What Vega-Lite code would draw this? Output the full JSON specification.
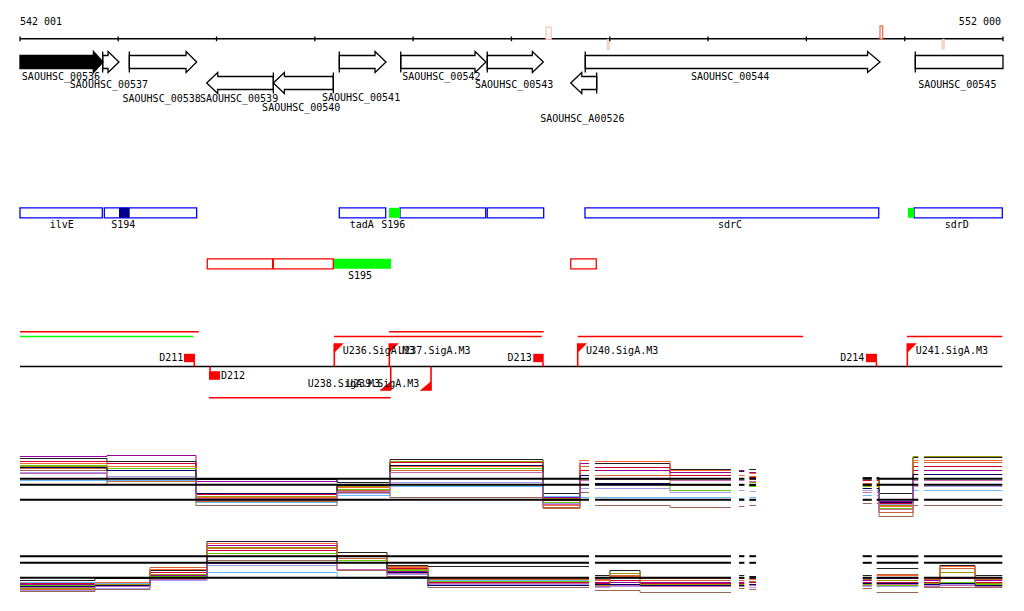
{
"$schema":"https://vega.github.io/schema/vega-lite/v6.json",
"width":1024,"height":611,
"autosize":{"type":"fit","contains":"padding"},
"padding":0,
"background":"white",
"config":{"view":{"stroke":null},"text":{"font":"DejaVu Sans Mono","fontSize":10,"fill":"black","baseline":"middle"}},
"encoding":{
"x":{"field":"x","type":"quantitative","scale":{"domain":[541797.6,552213.7],"nice":false,"zero":false},"axis":null},
"y":{"field":"y","type":"quantitative","stack":null,"scale":{"domain":[-0.5,610.5],"reverse":true,"nice":false,"zero":false},"axis":null}
},
"datasets":{
"hr":[
{"x":542001,"x2":552000,"y":38.3,"k":"blk"},
{"x":542001,"x2":551993,"y":366,"k":"blk"},
{"x":542001,"x2":543819,"y":331.3,"k":"red"},
{"x":545755,"x2":547328,"y":331.3,"k":"red"},
{"x":545195,"x2":547308,"y":336,"k":"red"},
{"x":547674,"x2":549966,"y":336,"k":"red"},
{"x":551024,"x2":551993,"y":336,"k":"red"},
{"x":543923,"x2":545772,"y":397.3,"k":"red"},
{"x":542001,"x2":543764,"y":336,"k":"green"},
{"x":542001,"x2":547789,"y":478.3,"k":"ref"},{"x":547850,"x2":549233,"y":478.3,"k":"ref"},{"x":549315,"x2":549369,"y":478.3,"k":"ref"},{"x":549420,"x2":549488,"y":478.3,"k":"ref"},{"x":550573,"x2":550665,"y":478.3,"k":"ref"},{"x":550715,"x2":551139,"y":478.3,"k":"ref"},{"x":551197,"x2":551993,"y":478.3,"k":"ref"},
{"x":542001,"x2":547789,"y":484.3,"k":"ref"},{"x":547850,"x2":549233,"y":484.3,"k":"ref"},{"x":549315,"x2":549369,"y":484.3,"k":"ref"},{"x":549420,"x2":549488,"y":484.3,"k":"ref"},{"x":550573,"x2":550665,"y":484.3,"k":"ref"},{"x":550715,"x2":551139,"y":484.3,"k":"ref"},{"x":551197,"x2":551993,"y":484.3,"k":"ref"},
{"x":542001,"x2":547789,"y":499.3,"k":"ref"},{"x":547850,"x2":549233,"y":499.3,"k":"ref"},{"x":549315,"x2":549369,"y":499.3,"k":"ref"},{"x":549420,"x2":549488,"y":499.3,"k":"ref"},{"x":550573,"x2":550665,"y":499.3,"k":"ref"},{"x":550715,"x2":551139,"y":499.3,"k":"ref"},{"x":551197,"x2":551993,"y":499.3,"k":"ref"},
{"x":542001,"x2":547789,"y":555.7,"k":"ref"},{"x":547850,"x2":549233,"y":555.7,"k":"ref"},{"x":549315,"x2":549369,"y":555.7,"k":"ref"},{"x":549420,"x2":549488,"y":555.7,"k":"ref"},{"x":550573,"x2":550665,"y":555.7,"k":"ref"},{"x":550715,"x2":551139,"y":555.7,"k":"ref"},{"x":551197,"x2":551993,"y":555.7,"k":"ref"},
{"x":542001,"x2":547789,"y":562.3,"k":"ref"},{"x":547850,"x2":549233,"y":562.3,"k":"ref"},{"x":549315,"x2":549369,"y":562.3,"k":"ref"},{"x":549420,"x2":549488,"y":562.3,"k":"ref"},{"x":550573,"x2":550665,"y":562.3,"k":"ref"},{"x":550715,"x2":551139,"y":562.3,"k":"ref"},{"x":551197,"x2":551993,"y":562.3,"k":"ref"},
{"x":542001,"x2":547789,"y":577.3,"k":"ref"},{"x":547850,"x2":549233,"y":577.3,"k":"ref"},{"x":549315,"x2":549369,"y":577.3,"k":"ref"},{"x":549420,"x2":549488,"y":577.3,"k":"ref"},{"x":550573,"x2":550665,"y":577.3,"k":"ref"},{"x":550715,"x2":551139,"y":577.3,"k":"ref"},{"x":551197,"x2":551993,"y":577.3,"k":"ref"}
],
"vr":[
{"x":542001,"y":36,"y2":40.7,"k":"blk"},{"x":543000,"y":36,"y2":40.7,"k":"blk"},{"x":544000,"y":36,"y2":40.7,"k":"blk"},{"x":545000,"y":36,"y2":40.7,"k":"blk"},{"x":546000,"y":36,"y2":40.7,"k":"blk"},{"x":547000,"y":36,"y2":40.7,"k":"blk"},{"x":548000,"y":36,"y2":40.7,"k":"blk"},{"x":549000,"y":36,"y2":40.7,"k":"blk"},{"x":550000,"y":36,"y2":40.7,"k":"blk"},{"x":551000,"y":36,"y2":40.7,"k":"blk"},{"x":552000,"y":36,"y2":40.7,"k":"blk"},
{"x":542842,"y":51,"y2":72,"k":"blk"},{"x":543113,"y":51,"y2":72,"k":"blk"},{"x":545249,"y":51,"y2":72,"k":"blk"},{"x":545874,"y":51,"y2":72,"k":"blk"},{"x":546754,"y":51,"y2":72,"k":"blk"},{"x":547751,"y":51,"y2":72,"k":"blk"},{"x":551108,"y":51,"y2":72,"k":"blk"},
{"x":544578,"y":72,"y2":93,"k":"blk"},{"x":545188,"y":72,"y2":93,"k":"blk"},{"x":547867,"y":72,"y2":93,"k":"blk"},
{"x":543774,"y":361.7,"y2":366,"k":"red"},{"x":543934,"y":366,"y2":370.7,"k":"red"},{"x":547321,"y":361.7,"y2":366,"k":"red"},{"x":550713,"y":361.7,"y2":366,"k":"red"},
{"x":545198,"y":343,"y2":366,"k":"red"},{"x":545758,"y":343,"y2":366,"k":"red"},{"x":547674,"y":343,"y2":366,"k":"red"},{"x":551027,"y":343,"y2":366,"k":"red"},
{"x":545772,"y":366,"y2":390,"k":"red"},{"x":546182,"y":366,"y2":390,"k":"red"}
],
"rc":[
{"x":542001,"x2":542838,"y":207.3,"y2":217.3,"k":"blue"},{"x":542859,"x2":543798,"y":207.3,"y2":217.3,"k":"blue"},{"x":545249,"x2":545721,"y":207.3,"y2":217.3,"k":"blue"},{"x":545866,"x2":546738,"y":207.3,"y2":217.3,"k":"blue"},{"x":546754,"x2":547328,"y":207.3,"y2":217.3,"k":"blue"},{"x":547748,"x2":550736,"y":207.3,"y2":217.3,"k":"blue"},{"x":551095,"x2":551993,"y":207.3,"y2":217.3,"k":"blue"},
{"x":543008,"x2":543117,"y":207.3,"y2":217.3,"k":"navy"},
{"x":545755,"x2":545866,"y":207.3,"y2":217.3,"k":"green"},{"x":551034,"x2":551095,"y":207.3,"y2":217.3,"k":"green"},{"x":545188,"x2":545775,"y":258.3,"y2":268.3,"k":"green"},
{"x":543906,"x2":544571,"y":258.3,"y2":268.3,"k":"red"},{"x":544578,"x2":545188,"y":258.3,"y2":268.3,"k":"red"},{"x":547603,"x2":547863,"y":258.3,"y2":268.3,"k":"red"},
{"x":543669,"x2":543781,"y":353.3,"y2":361.7,"k":"term"},{"x":543923,"x2":544035,"y":370.7,"y2":379.3,"k":"term"},{"x":547222,"x2":547328,"y":353.3,"y2":361.7,"k":"term"},{"x":550606,"x2":550718,"y":353.3,"y2":361.7,"k":"term"},
{"x":547351,"x2":547405,"y":26.7,"y2":38.7,"k":"pink"},
{"x":547975,"x2":547995,"y":38.7,"y2":49.3,"k":"pinkf"},{"x":551380,"x2":551403,"y":38.7,"y2":48.7,"k":"pinkf"},
{"x":550749,"x2":550776,"y":25.3,"y2":38.7,"k":"orange"}
],
"arr":[
{"g":"00536","b":1,"x":542001,"y":55,"y2":68},{"g":"00536","b":1,"x":542747,"y":55,"y2":68},{"g":"00536","b":1,"x":542748,"y":51,"y2":72},{"g":"00536","b":1,"x":542845,"y":61.5,"y2":61.5},
{"g":"00537","b":0,"x":542842,"y":55,"y2":68},{"g":"00537","b":0,"x":542896,"y":55,"y2":68},{"g":"00537","b":0,"x":542897,"y":51,"y2":72},{"g":"00537","b":0,"x":543008,"y":61.5,"y2":61.5},
{"g":"00538","b":0,"x":543113,"y":55,"y2":68},{"g":"00538","b":0,"x":543690,"y":55,"y2":68},{"g":"00538","b":0,"x":543691,"y":51,"y2":72},{"g":"00538","b":0,"x":543798,"y":61.5,"y2":61.5},
{"g":"00541","b":0,"x":545249,"y":55,"y2":68},{"g":"00541","b":0,"x":545612,"y":55,"y2":68},{"g":"00541","b":0,"x":545613,"y":51,"y2":72},{"g":"00541","b":0,"x":545724,"y":61.5,"y2":61.5},
{"g":"00542","b":0,"x":545874,"y":55,"y2":68},{"g":"00542","b":0,"x":546629,"y":55,"y2":68},{"g":"00542","b":0,"x":546630,"y":51,"y2":72},{"g":"00542","b":0,"x":546741,"y":61.5,"y2":61.5},
{"g":"00543","b":0,"x":546754,"y":55,"y2":68},{"g":"00543","b":0,"x":547212,"y":55,"y2":68},{"g":"00543","b":0,"x":547213,"y":51,"y2":72},{"g":"00543","b":0,"x":547324,"y":61.5,"y2":61.5},
{"g":"00544","b":0,"x":547751,"y":55,"y2":68},{"g":"00544","b":0,"x":550622,"y":55,"y2":68},{"g":"00544","b":0,"x":550623,"y":51,"y2":72},{"g":"00544","b":0,"x":550749,"y":61.5,"y2":61.5},
{"g":"00545","b":0,"x":551108,"y":55,"y2":68},{"g":"00545","b":0,"x":552000,"y":55,"y2":68},
{"g":"00539","b":0,"x":543900,"y":82.5,"y2":82.5},{"g":"00539","b":0,"x":544012,"y":72,"y2":93},{"g":"00539","b":0,"x":544013,"y":76,"y2":89},{"g":"00539","b":0,"x":544578,"y":76,"y2":89},
{"g":"00540","b":0,"x":544578,"y":82.5,"y2":82.5},{"g":"00540","b":0,"x":544690,"y":72,"y2":93},{"g":"00540","b":0,"x":544691,"y":76,"y2":89},{"g":"00540","b":0,"x":545188,"y":76,"y2":89},
{"g":"A00526","b":0,"x":547603,"y":82.5,"y2":82.5},{"g":"A00526","b":0,"x":547715,"y":72,"y2":93},{"g":"A00526","b":0,"x":547716,"y":76,"y2":89},{"g":"A00526","b":0,"x":547867,"y":76,"y2":89}
],
"flg":[
{"f":"U236","x":545198,"y":343,"y2":352},{"f":"U236","x":545289,"y":343,"y2":343},
{"f":"U237","x":545758,"y":343,"y2":352},{"f":"U237","x":545849,"y":343,"y2":343},
{"f":"U240","x":547674,"y":343,"y2":352},{"f":"U240","x":547765,"y":343,"y2":343},
{"f":"U241","x":551027,"y":343,"y2":352},{"f":"U241","x":551118,"y":343,"y2":343},
{"f":"U238","x":545663,"y":390,"y2":390},{"f":"U238","x":545772,"y":381,"y2":390},
{"f":"U239","x":546073,"y":390,"y2":390},{"f":"U239","x":546182,"y":381,"y2":390}
],
"tx":[
{"x":542418,"y":76.5,"t":"SAOUHSC_00536","side":"c"},
{"x":542906,"y":84.5,"t":"SAOUHSC_00537","side":"c"},
{"x":543442,"y":98,"t":"SAOUHSC_00538","side":"c"},
{"x":544229,"y":98,"t":"SAOUHSC_00539","side":"c"},
{"x":544862,"y":107,"t":"SAOUHSC_00540","side":"c"},
{"x":545470,"y":97.5,"t":"SAOUHSC_00541","side":"c"},
{"x":546287,"y":76,"t":"SAOUHSC_00542","side":"c"},
{"x":547028,"y":84.5,"t":"SAOUHSC_00543","side":"c"},
{"x":547721,"y":118,"t":"SAOUHSC_A00526","side":"c"},
{"x":549225,"y":76,"t":"SAOUHSC_00544","side":"c"},
{"x":551535,"y":84.5,"t":"SAOUHSC_00545","side":"c"},
{"x":542425,"y":224.5,"t":"ilvE","side":"c"},
{"x":543052,"y":224.5,"t":"S194","side":"c"},
{"x":545477,"y":224.5,"t":"tadA","side":"c"},
{"x":545798,"y":224.5,"t":"S196","side":"c"},
{"x":549223,"y":224.5,"t":"sdrC","side":"c"},
{"x":551529,"y":224.5,"t":"sdrD","side":"c"},
{"x":545460,"y":275,"t":"S195","side":"c"},
{"x":542001,"y":21,"t":"542 001","side":"l"},
{"x":544046,"y":375,"t":"D212","side":"l"},
{"x":545283,"y":350.5,"t":"U236.SigA.M3","side":"l"},
{"x":545849,"y":350.5,"t":"U237.SigA.M3","side":"l"},
{"x":547758,"y":350.5,"t":"U240.SigA.M3","side":"l"},
{"x":551112,"y":350.5,"t":"U241.SigA.M3","side":"l"},
{"x":551980,"y":21,"t":"552 000","side":"r"},
{"x":543662,"y":357,"t":"D211","side":"r"},
{"x":547206,"y":357,"t":"D213","side":"r"},
{"x":550589,"y":357,"t":"D214","side":"r"},
{"x":545663,"y":383,"t":"U238.SigA.M3","side":"r"},
{"x":546063,"y":383,"t":"U239.SigA.M3","side":"r"}
],
"ex":[
{"s":"A","g":"1a","x":542001,"y":456},{"s":"A","g":"1a","x":542886,"y":455},{"s":"A","g":"1a","x":543791,"y":481},{"s":"A","g":"1a","x":545226,"y":478},{"s":"A","g":"1a","x":545765,"y":462},{"s":"A","g":"1a","x":547321,"y":497},{"s":"A","g":"1a","x":547697,"y":463},{"s":"A","g":"1a","x":547789,"y":463},
{"s":"A","g":"1b","x":547850,"y":470},{"s":"A","g":"1b","x":548613,"y":472},{"s":"A","g":"1b","x":549233,"y":472},
{"s":"A","g":"1c","x":549315,"y":470},{"s":"A","g":"1c","x":549369,"y":470},{"s":"A","g":"1d","x":549420,"y":472},{"s":"A","g":"1d","x":549488,"y":472},
{"s":"A","g":"1e","x":550573,"y":478},{"s":"A","g":"1e","x":550665,"y":478},
{"s":"A","g":"1f","x":550715,"y":478},{"s":"A","g":"1f","x":550739,"y":501},{"s":"A","g":"1f","x":551085,"y":470},{"s":"A","g":"1f","x":551139,"y":470},
{"s":"A","g":"1g","x":551197,"y":470},{"s":"A","g":"1g","x":551993,"y":470},
{"s":"B","g":"1a","x":542001,"y":458},{"s":"B","g":"1a","x":542886,"y":461},{"s":"B","g":"1a","x":543791,"y":479},{"s":"B","g":"1a","x":545226,"y":482},{"s":"B","g":"1a","x":545765,"y":459},{"s":"B","g":"1a","x":547321,"y":493},{"s":"B","g":"1a","x":547697,"y":470},{"s":"B","g":"1a","x":547789,"y":470},
{"s":"B","g":"1b","x":547850,"y":463},{"s":"B","g":"1b","x":548613,"y":469},{"s":"B","g":"1b","x":549233,"y":469},
{"s":"B","g":"1c","x":549315,"y":471},{"s":"B","g":"1c","x":549369,"y":471},{"s":"B","g":"1d","x":549420,"y":469},{"s":"B","g":"1d","x":549488,"y":469},
{"s":"B","g":"1e","x":550573,"y":477},{"s":"B","g":"1e","x":550665,"y":477},
{"s":"B","g":"1f","x":550715,"y":477},{"s":"B","g":"1f","x":550739,"y":493},{"s":"B","g":"1f","x":551085,"y":457},{"s":"B","g":"1f","x":551139,"y":457},
{"s":"B","g":"1g","x":551197,"y":457},{"s":"B","g":"1g","x":551993,"y":457},
{"s":"C","g":"1a","x":542001,"y":461},{"s":"C","g":"1a","x":542886,"y":463},{"s":"C","g":"1a","x":543791,"y":494},{"s":"C","g":"1a","x":545226,"y":484},{"s":"C","g":"1a","x":545765,"y":462},{"s":"C","g":"1a","x":547321,"y":500},{"s":"C","g":"1a","x":547697,"y":470},{"s":"C","g":"1a","x":547789,"y":470},
{"s":"C","g":"1b","x":547850,"y":467},{"s":"C","g":"1b","x":548613,"y":475},{"s":"C","g":"1b","x":549233,"y":475},
{"s":"C","g":"1c","x":549315,"y":475},{"s":"C","g":"1c","x":549369,"y":475},{"s":"C","g":"1d","x":549420,"y":477},{"s":"C","g":"1d","x":549488,"y":477},
{"s":"C","g":"1e","x":550573,"y":480},{"s":"C","g":"1e","x":550665,"y":480},
{"s":"C","g":"1f","x":550715,"y":480},{"s":"C","g":"1f","x":550739,"y":503},{"s":"C","g":"1f","x":551085,"y":466},{"s":"C","g":"1f","x":551139,"y":466},
{"s":"C","g":"1g","x":551197,"y":466},{"s":"C","g":"1g","x":551993,"y":466},
{"s":"D","g":"1a","x":542001,"y":463},{"s":"D","g":"1a","x":542886,"y":466},{"s":"D","g":"1a","x":543791,"y":497},{"s":"D","g":"1a","x":545226,"y":487},{"s":"D","g":"1a","x":545765,"y":466},{"s":"D","g":"1a","x":547321,"y":505},{"s":"D","g":"1a","x":547697,"y":460},{"s":"D","g":"1a","x":547789,"y":460},
{"s":"D","g":"1b","x":547850,"y":461},{"s":"D","g":"1b","x":548613,"y":470},{"s":"D","g":"1b","x":549233,"y":470},
{"s":"D","g":"1c","x":549315,"y":475},{"s":"D","g":"1c","x":549369,"y":475},{"s":"D","g":"1d","x":549420,"y":473},{"s":"D","g":"1d","x":549488,"y":473},
{"s":"D","g":"1e","x":550573,"y":483},{"s":"D","g":"1e","x":550665,"y":483},
{"s":"D","g":"1f","x":550715,"y":483},{"s":"D","g":"1f","x":550739,"y":506},{"s":"D","g":"1f","x":551085,"y":460},{"s":"D","g":"1f","x":551139,"y":460},
{"s":"D","g":"1g","x":551197,"y":460},{"s":"D","g":"1g","x":551993,"y":460},
{"s":"E","g":"1a","x":542001,"y":466},{"s":"E","g":"1a","x":542886,"y":470},{"s":"E","g":"1a","x":543791,"y":496},{"s":"E","g":"1a","x":545226,"y":486},{"s":"E","g":"1a","x":545765,"y":461},{"s":"E","g":"1a","x":547321,"y":498},{"s":"E","g":"1a","x":547697,"y":478},{"s":"E","g":"1a","x":547789,"y":478},
{"s":"E","g":"1b","x":547850,"y":478},{"s":"E","g":"1b","x":548613,"y":485},{"s":"E","g":"1b","x":549233,"y":485},
{"s":"E","g":"1c","x":549315,"y":480},{"s":"E","g":"1c","x":549369,"y":480},{"s":"E","g":"1d","x":549420,"y":482},{"s":"E","g":"1d","x":549488,"y":482},
{"s":"E","g":"1e","x":550573,"y":478},{"s":"E","g":"1e","x":550665,"y":478},
{"s":"E","g":"1f","x":550715,"y":478},{"s":"E","g":"1f","x":550739,"y":505},{"s":"E","g":"1f","x":551085,"y":456},{"s":"E","g":"1f","x":551139,"y":456},
{"s":"E","g":"1g","x":551197,"y":456},{"s":"E","g":"1g","x":551993,"y":456},
{"s":"F","g":"1a","x":542001,"y":465},{"s":"F","g":"1a","x":542886,"y":468},{"s":"F","g":"1a","x":543791,"y":499},{"s":"F","g":"1a","x":545226,"y":489},{"s":"F","g":"1a","x":545765,"y":468},{"s":"F","g":"1a","x":547321,"y":502},{"s":"F","g":"1a","x":547697,"y":484},{"s":"F","g":"1a","x":547789,"y":484},
{"s":"F","g":"1b","x":547850,"y":484},{"s":"F","g":"1b","x":548613,"y":490},{"s":"F","g":"1b","x":549233,"y":490},
{"s":"F","g":"1c","x":549315,"y":485},{"s":"F","g":"1c","x":549369,"y":485},{"s":"F","g":"1d","x":549420,"y":486},{"s":"F","g":"1d","x":549488,"y":486},
{"s":"F","g":"1e","x":550573,"y":486},{"s":"F","g":"1e","x":550665,"y":486},
{"s":"F","g":"1f","x":550715,"y":486},{"s":"F","g":"1f","x":550739,"y":508},{"s":"F","g":"1f","x":551085,"y":478},{"s":"F","g":"1f","x":551139,"y":478},
{"s":"F","g":"1g","x":551197,"y":478},{"s":"F","g":"1g","x":551993,"y":478},
{"s":"G","g":"1a","x":542001,"y":468},{"s":"G","g":"1a","x":542886,"y":481},{"s":"G","g":"1a","x":543791,"y":501},{"s":"G","g":"1a","x":545226,"y":490},{"s":"G","g":"1a","x":545765,"y":470},{"s":"G","g":"1a","x":547321,"y":508},{"s":"G","g":"1a","x":547697,"y":466},{"s":"G","g":"1a","x":547789,"y":466},
{"s":"G","g":"1b","x":547850,"y":475},{"s":"G","g":"1b","x":548613,"y":478},{"s":"G","g":"1b","x":549233,"y":478},
{"s":"G","g":"1c","x":549315,"y":478},{"s":"G","g":"1c","x":549369,"y":478},{"s":"G","g":"1d","x":549420,"y":476},{"s":"G","g":"1d","x":549488,"y":476},
{"s":"G","g":"1e","x":550573,"y":485},{"s":"G","g":"1e","x":550665,"y":485},
{"s":"G","g":"1f","x":550715,"y":485},{"s":"G","g":"1f","x":550739,"y":512},{"s":"G","g":"1f","x":551085,"y":462},{"s":"G","g":"1f","x":551139,"y":462},
{"s":"G","g":"1g","x":551197,"y":462},{"s":"G","g":"1g","x":551993,"y":462},
{"s":"H","g":"1a","x":542001,"y":480},{"s":"H","g":"1a","x":542886,"y":480},{"s":"H","g":"1a","x":543791,"y":502},{"s":"H","g":"1a","x":545226,"y":495},{"s":"H","g":"1a","x":545765,"y":486},{"s":"H","g":"1a","x":547321,"y":496},{"s":"H","g":"1a","x":547697,"y":497},{"s":"H","g":"1a","x":547789,"y":497},
{"s":"H","g":"1b","x":547850,"y":497},{"s":"H","g":"1b","x":548613,"y":497},{"s":"H","g":"1b","x":549233,"y":497},
{"s":"H","g":"1c","x":549315,"y":498},{"s":"H","g":"1c","x":549369,"y":498},{"s":"H","g":"1d","x":549420,"y":497},{"s":"H","g":"1d","x":549488,"y":497},
{"s":"H","g":"1e","x":550573,"y":495},{"s":"H","g":"1e","x":550665,"y":495},
{"s":"H","g":"1f","x":550715,"y":495},{"s":"H","g":"1f","x":550739,"y":499},{"s":"H","g":"1f","x":551085,"y":490},{"s":"H","g":"1f","x":551139,"y":490},
{"s":"H","g":"1g","x":551197,"y":490},{"s":"H","g":"1g","x":551993,"y":490},
{"s":"I","g":"1a","x":542001,"y":472},{"s":"I","g":"1a","x":542886,"y":476},{"s":"I","g":"1a","x":543791,"y":500},{"s":"I","g":"1a","x":545226,"y":493},{"s":"I","g":"1a","x":545765,"y":482},{"s":"I","g":"1a","x":547321,"y":503},{"s":"I","g":"1a","x":547697,"y":488},{"s":"I","g":"1a","x":547789,"y":488},
{"s":"I","g":"1b","x":547850,"y":488},{"s":"I","g":"1b","x":548613,"y":492},{"s":"I","g":"1b","x":549233,"y":492},
{"s":"I","g":"1c","x":549315,"y":490},{"s":"I","g":"1c","x":549369,"y":490},{"s":"I","g":"1d","x":549420,"y":491},{"s":"I","g":"1d","x":549488,"y":491},
{"s":"I","g":"1e","x":550573,"y":490},{"s":"I","g":"1e","x":550665,"y":490},
{"s":"I","g":"1f","x":550715,"y":490},{"s":"I","g":"1f","x":550739,"y":504},{"s":"I","g":"1f","x":551085,"y":486},{"s":"I","g":"1f","x":551139,"y":486},
{"s":"I","g":"1g","x":551197,"y":486},{"s":"I","g":"1g","x":551993,"y":486},
{"s":"J","g":"1a","x":542001,"y":470},{"s":"J","g":"1a","x":542886,"y":484},{"s":"J","g":"1a","x":543791,"y":505},{"s":"J","g":"1a","x":545226,"y":492},{"s":"J","g":"1a","x":545765,"y":497},{"s":"J","g":"1a","x":547321,"y":507},{"s":"J","g":"1a","x":547697,"y":492},{"s":"J","g":"1a","x":547789,"y":492},
{"s":"J","g":"1b","x":547850,"y":505},{"s":"J","g":"1b","x":548613,"y":507},{"s":"J","g":"1b","x":549233,"y":507},
{"s":"J","g":"1c","x":549315,"y":506},{"s":"J","g":"1c","x":549369,"y":506},{"s":"J","g":"1d","x":549420,"y":505},{"s":"J","g":"1d","x":549488,"y":505},
{"s":"J","g":"1e","x":550573,"y":503},{"s":"J","g":"1e","x":550665,"y":503},
{"s":"J","g":"1f","x":550715,"y":503},{"s":"J","g":"1f","x":550739,"y":516},{"s":"J","g":"1f","x":551085,"y":505},{"s":"J","g":"1f","x":551139,"y":505},
{"s":"J","g":"1g","x":551197,"y":505},{"s":"J","g":"1g","x":551993,"y":505},
{"s":"K","g":"1a","x":542001,"y":467},{"s":"K","g":"1a","x":542886,"y":470},{"s":"K","g":"1a","x":543791,"y":493},{"s":"K","g":"1a","x":545226,"y":485},{"s":"K","g":"1a","x":545765,"y":465},{"s":"K","g":"1a","x":547321,"y":499},{"s":"K","g":"1a","x":547697,"y":475},{"s":"K","g":"1a","x":547789,"y":475},
{"s":"K","g":"1b","x":547850,"y":483},{"s":"K","g":"1b","x":548613,"y":484},{"s":"K","g":"1b","x":549233,"y":484},
{"s":"K","g":"1c","x":549315,"y":484},{"s":"K","g":"1c","x":549369,"y":484},{"s":"K","g":"1d","x":549420,"y":485},{"s":"K","g":"1d","x":549488,"y":485},
{"s":"K","g":"1e","x":550573,"y":488},{"s":"K","g":"1e","x":550665,"y":488},
{"s":"K","g":"1f","x":550715,"y":488},{"s":"K","g":"1f","x":550739,"y":502},{"s":"K","g":"1f","x":551085,"y":474},{"s":"K","g":"1f","x":551139,"y":474},
{"s":"K","g":"1g","x":551197,"y":474},{"s":"K","g":"1g","x":551993,"y":474},
{"s":"L","g":"1a","x":542001,"y":473},{"s":"L","g":"1a","x":542886,"y":478},{"s":"L","g":"1a","x":543791,"y":498},{"s":"L","g":"1a","x":545226,"y":491},{"s":"L","g":"1a","x":545765,"y":472},{"s":"L","g":"1a","x":547321,"y":504},{"s":"L","g":"1a","x":547697,"y":480},{"s":"L","g":"1a","x":547789,"y":480},
{"s":"L","g":"1b","x":547850,"y":479},{"s":"L","g":"1b","x":548613,"y":480},{"s":"L","g":"1b","x":549233,"y":480},
{"s":"L","g":"1c","x":549315,"y":480},{"s":"L","g":"1c","x":549369,"y":480},{"s":"L","g":"1d","x":549420,"y":481},{"s":"L","g":"1d","x":549488,"y":481},
{"s":"L","g":"1e","x":550573,"y":492},{"s":"L","g":"1e","x":550665,"y":492},
{"s":"L","g":"1f","x":550715,"y":492},{"s":"L","g":"1f","x":550739,"y":509},{"s":"L","g":"1f","x":551085,"y":480},{"s":"L","g":"1f","x":551139,"y":480},
{"s":"L","g":"1g","x":551197,"y":480},{"s":"L","g":"1g","x":551993,"y":480},
{"s":"A","g":"2a","x":542001,"y":584},{"s":"A","g":"2a","x":542764,"y":582},{"s":"A","g":"2a","x":543323,"y":575},{"s":"A","g":"2a","x":543903,"y":545},{"s":"A","g":"2a","x":545226,"y":560},{"s":"A","g":"2a","x":545734,"y":571},{"s":"A","g":"2a","x":546151,"y":580},{"s":"A","g":"2a","x":547789,"y":580},
{"s":"A","g":"2b","x":547850,"y":582},{"s":"A","g":"2b","x":548002,"y":582},{"s":"A","g":"2b","x":548308,"y":582},{"s":"A","g":"2b","x":549233,"y":582},
{"s":"A","g":"2c","x":549315,"y":582},{"s":"A","g":"2c","x":549369,"y":582},{"s":"A","g":"2d","x":549420,"y":581},{"s":"A","g":"2d","x":549488,"y":581},
{"s":"A","g":"2e","x":550573,"y":580},{"s":"A","g":"2e","x":550665,"y":580},{"s":"A","g":"2f","x":550715,"y":578},{"s":"A","g":"2f","x":551139,"y":578},
{"s":"A","g":"2g","x":551197,"y":580},{"s":"A","g":"2g","x":551359,"y":578},{"s":"A","g":"2g","x":551715,"y":580},{"s":"A","g":"2g","x":551993,"y":580},
{"s":"B","g":"2a","x":542001,"y":580},{"s":"B","g":"2a","x":542764,"y":578},{"s":"B","g":"2a","x":543323,"y":570},{"s":"B","g":"2a","x":543903,"y":541},{"s":"B","g":"2a","x":545226,"y":552},{"s":"B","g":"2a","x":545734,"y":565},{"s":"B","g":"2a","x":546151,"y":566},{"s":"B","g":"2a","x":547789,"y":566},
{"s":"B","g":"2b","x":547850,"y":575},{"s":"B","g":"2b","x":548002,"y":570},{"s":"B","g":"2b","x":548308,"y":577},{"s":"B","g":"2b","x":549233,"y":577},
{"s":"B","g":"2c","x":549315,"y":575},{"s":"B","g":"2c","x":549369,"y":575},{"s":"B","g":"2d","x":549420,"y":576},{"s":"B","g":"2d","x":549488,"y":576},
{"s":"B","g":"2e","x":550573,"y":575},{"s":"B","g":"2e","x":550665,"y":575},{"s":"B","g":"2f","x":550715,"y":568},{"s":"B","g":"2f","x":551139,"y":568},
{"s":"B","g":"2g","x":551197,"y":577},{"s":"B","g":"2g","x":551359,"y":565},{"s":"B","g":"2g","x":551715,"y":575},{"s":"B","g":"2g","x":551993,"y":575},
{"s":"C","g":"2a","x":542001,"y":583},{"s":"C","g":"2a","x":542764,"y":582},{"s":"C","g":"2a","x":543323,"y":572},{"s":"C","g":"2a","x":543903,"y":550},{"s":"C","g":"2a","x":545226,"y":560},{"s":"C","g":"2a","x":545734,"y":568},{"s":"C","g":"2a","x":546151,"y":582},{"s":"C","g":"2a","x":547789,"y":582},
{"s":"C","g":"2b","x":547850,"y":583},{"s":"C","g":"2b","x":548002,"y":580},{"s":"C","g":"2b","x":548308,"y":583},{"s":"C","g":"2b","x":549233,"y":583},
{"s":"C","g":"2c","x":549315,"y":583},{"s":"C","g":"2c","x":549369,"y":583},{"s":"C","g":"2d","x":549420,"y":582},{"s":"C","g":"2d","x":549488,"y":582},
{"s":"C","g":"2e","x":550573,"y":582},{"s":"C","g":"2e","x":550665,"y":582},{"s":"C","g":"2f","x":550715,"y":582},{"s":"C","g":"2f","x":551139,"y":582},
{"s":"C","g":"2g","x":551197,"y":582},{"s":"C","g":"2g","x":551359,"y":578},{"s":"C","g":"2g","x":551715,"y":582},{"s":"C","g":"2g","x":551993,"y":582},
{"s":"D","g":"2a","x":542001,"y":586},{"s":"D","g":"2a","x":542764,"y":582},{"s":"D","g":"2a","x":543323,"y":569},{"s":"D","g":"2a","x":543903,"y":543},{"s":"D","g":"2a","x":545226,"y":555},{"s":"D","g":"2a","x":545734,"y":567},{"s":"D","g":"2a","x":546151,"y":578},{"s":"D","g":"2a","x":547789,"y":578},
{"s":"D","g":"2b","x":547850,"y":580},{"s":"D","g":"2b","x":548002,"y":576},{"s":"D","g":"2b","x":548308,"y":578},{"s":"D","g":"2b","x":549233,"y":578},
{"s":"D","g":"2c","x":549315,"y":578},{"s":"D","g":"2c","x":549369,"y":578},{"s":"D","g":"2d","x":549420,"y":579},{"s":"D","g":"2d","x":549488,"y":579},
{"s":"D","g":"2e","x":550573,"y":578},{"s":"D","g":"2e","x":550665,"y":578},{"s":"D","g":"2f","x":550715,"y":575},{"s":"D","g":"2f","x":551139,"y":575},
{"s":"D","g":"2g","x":551197,"y":578},{"s":"D","g":"2g","x":551359,"y":566},{"s":"D","g":"2g","x":551715,"y":578},{"s":"D","g":"2g","x":551993,"y":578},
{"s":"E","g":"2a","x":542001,"y":588},{"s":"E","g":"2a","x":542764,"y":584},{"s":"E","g":"2a","x":543323,"y":574},{"s":"E","g":"2a","x":543903,"y":547},{"s":"E","g":"2a","x":545226,"y":556},{"s":"E","g":"2a","x":545734,"y":569},{"s":"E","g":"2a","x":546151,"y":583},{"s":"E","g":"2a","x":547789,"y":583},
{"s":"E","g":"2b","x":547850,"y":585},{"s":"E","g":"2b","x":548002,"y":573},{"s":"E","g":"2b","x":548308,"y":584},{"s":"E","g":"2b","x":549233,"y":584},
{"s":"E","g":"2c","x":549315,"y":584},{"s":"E","g":"2c","x":549369,"y":584},{"s":"E","g":"2d","x":549420,"y":585},{"s":"E","g":"2d","x":549488,"y":585},
{"s":"E","g":"2e","x":550573,"y":585},{"s":"E","g":"2e","x":550665,"y":585},{"s":"E","g":"2f","x":550715,"y":580},{"s":"E","g":"2f","x":551139,"y":580},
{"s":"E","g":"2g","x":551197,"y":583},{"s":"E","g":"2g","x":551359,"y":572},{"s":"E","g":"2g","x":551715,"y":583},{"s":"E","g":"2g","x":551993,"y":583},
{"s":"F","g":"2a","x":542001,"y":585},{"s":"F","g":"2a","x":542764,"y":585},{"s":"F","g":"2a","x":543323,"y":576},{"s":"F","g":"2a","x":543903,"y":553},{"s":"F","g":"2a","x":545226,"y":560},{"s":"F","g":"2a","x":545734,"y":570},{"s":"F","g":"2a","x":546151,"y":581},{"s":"F","g":"2a","x":547789,"y":581},
{"s":"F","g":"2b","x":547850,"y":586},{"s":"F","g":"2b","x":548002,"y":584},{"s":"F","g":"2b","x":548308,"y":585},{"s":"F","g":"2b","x":549233,"y":585},
{"s":"F","g":"2c","x":549315,"y":585},{"s":"F","g":"2c","x":549369,"y":585},{"s":"F","g":"2d","x":549420,"y":584},{"s":"F","g":"2d","x":549488,"y":584},
{"s":"F","g":"2e","x":550573,"y":584},{"s":"F","g":"2e","x":550665,"y":584},{"s":"F","g":"2f","x":550715,"y":585},{"s":"F","g":"2f","x":551139,"y":585},
{"s":"F","g":"2g","x":551197,"y":584},{"s":"F","g":"2g","x":551359,"y":582},{"s":"F","g":"2g","x":551715,"y":584},{"s":"F","g":"2g","x":551993,"y":584},
{"s":"G","g":"2a","x":542001,"y":589},{"s":"G","g":"2a","x":542764,"y":583},{"s":"G","g":"2a","x":543323,"y":567},{"s":"G","g":"2a","x":543903,"y":548},{"s":"G","g":"2a","x":545226,"y":558},{"s":"G","g":"2a","x":545734,"y":566},{"s":"G","g":"2a","x":546151,"y":579},{"s":"G","g":"2a","x":547789,"y":579},
{"s":"G","g":"2b","x":547850,"y":579},{"s":"G","g":"2b","x":548002,"y":575},{"s":"G","g":"2b","x":548308,"y":580},{"s":"G","g":"2b","x":549233,"y":580},
{"s":"G","g":"2c","x":549315,"y":580},{"s":"G","g":"2c","x":549369,"y":580},{"s":"G","g":"2d","x":549420,"y":581},{"s":"G","g":"2d","x":549488,"y":581},
{"s":"G","g":"2e","x":550573,"y":579},{"s":"G","g":"2e","x":550665,"y":579},{"s":"G","g":"2f","x":550715,"y":574},{"s":"G","g":"2f","x":551139,"y":574},
{"s":"G","g":"2g","x":551197,"y":579},{"s":"G","g":"2g","x":551359,"y":568},{"s":"G","g":"2g","x":551715,"y":579},{"s":"G","g":"2g","x":551993,"y":579},
{"s":"H","g":"2a","x":542001,"y":582},{"s":"H","g":"2a","x":542764,"y":583},{"s":"H","g":"2a","x":543323,"y":578},{"s":"H","g":"2a","x":543903,"y":572},{"s":"H","g":"2a","x":545226,"y":578},{"s":"H","g":"2a","x":545734,"y":578},{"s":"H","g":"2a","x":546151,"y":580},{"s":"H","g":"2a","x":547789,"y":580},
{"s":"H","g":"2b","x":547850,"y":578},{"s":"H","g":"2b","x":548002,"y":578},{"s":"H","g":"2b","x":548308,"y":577},{"s":"H","g":"2b","x":549233,"y":577},
{"s":"H","g":"2c","x":549315,"y":577},{"s":"H","g":"2c","x":549369,"y":577},{"s":"H","g":"2d","x":549420,"y":577},{"s":"H","g":"2d","x":549488,"y":577},
{"s":"H","g":"2e","x":550573,"y":578},{"s":"H","g":"2e","x":550665,"y":578},{"s":"H","g":"2f","x":550715,"y":577},{"s":"H","g":"2f","x":551139,"y":577},
{"s":"H","g":"2g","x":551197,"y":577},{"s":"H","g":"2g","x":551359,"y":577},{"s":"H","g":"2g","x":551715,"y":577},{"s":"H","g":"2g","x":551993,"y":577},
{"s":"I","g":"2a","x":542001,"y":590},{"s":"I","g":"2a","x":542764,"y":588},{"s":"I","g":"2a","x":543323,"y":580},{"s":"I","g":"2a","x":543903,"y":565},{"s":"I","g":"2a","x":545226,"y":570},{"s":"I","g":"2a","x":545734,"y":574},{"s":"I","g":"2a","x":546151,"y":584},{"s":"I","g":"2a","x":547789,"y":584},
{"s":"I","g":"2b","x":547850,"y":587},{"s":"I","g":"2b","x":548002,"y":586},{"s":"I","g":"2b","x":548308,"y":586},{"s":"I","g":"2b","x":549233,"y":586},
{"s":"I","g":"2c","x":549315,"y":586},{"s":"I","g":"2c","x":549369,"y":586},{"s":"I","g":"2d","x":549420,"y":587},{"s":"I","g":"2d","x":549488,"y":587},
{"s":"I","g":"2e","x":550573,"y":586},{"s":"I","g":"2e","x":550665,"y":586},{"s":"I","g":"2f","x":550715,"y":586},{"s":"I","g":"2f","x":551139,"y":586},
{"s":"I","g":"2g","x":551197,"y":585},{"s":"I","g":"2g","x":551359,"y":584},{"s":"I","g":"2g","x":551715,"y":586},{"s":"I","g":"2g","x":551993,"y":586},
{"s":"J","g":"2a","x":542001,"y":591},{"s":"J","g":"2a","x":542764,"y":589},{"s":"J","g":"2a","x":543323,"y":578},{"s":"J","g":"2a","x":543903,"y":560},{"s":"J","g":"2a","x":545226,"y":570},{"s":"J","g":"2a","x":545734,"y":576},{"s":"J","g":"2a","x":546151,"y":587},{"s":"J","g":"2a","x":547789,"y":587},
{"s":"J","g":"2b","x":547850,"y":590},{"s":"J","g":"2b","x":548002,"y":590},{"s":"J","g":"2b","x":548308,"y":592},{"s":"J","g":"2b","x":549233,"y":592},
{"s":"J","g":"2c","x":549315,"y":588},{"s":"J","g":"2c","x":549369,"y":588},{"s":"J","g":"2d","x":549420,"y":589},{"s":"J","g":"2d","x":549488,"y":589},
{"s":"J","g":"2e","x":550573,"y":588},{"s":"J","g":"2e","x":550665,"y":588},{"s":"J","g":"2f","x":550715,"y":592},{"s":"J","g":"2f","x":551139,"y":592},
{"s":"J","g":"2g","x":551197,"y":587},{"s":"J","g":"2g","x":551359,"y":587},{"s":"J","g":"2g","x":551715,"y":587},{"s":"J","g":"2g","x":551993,"y":587},
{"s":"K","g":"2a","x":542001,"y":586},{"s":"K","g":"2a","x":542764,"y":585},{"s":"K","g":"2a","x":543323,"y":577},{"s":"K","g":"2a","x":543903,"y":556},{"s":"K","g":"2a","x":545226,"y":562},{"s":"K","g":"2a","x":545734,"y":572},{"s":"K","g":"2a","x":546151,"y":585},{"s":"K","g":"2a","x":547789,"y":585},
{"s":"K","g":"2b","x":547850,"y":584},{"s":"K","g":"2b","x":548002,"y":584},{"s":"K","g":"2b","x":548308,"y":585},{"s":"K","g":"2b","x":549233,"y":585},
{"s":"K","g":"2c","x":549315,"y":585},{"s":"K","g":"2c","x":549369,"y":585},{"s":"K","g":"2d","x":549420,"y":584},{"s":"K","g":"2d","x":549488,"y":584},
{"s":"K","g":"2e","x":550573,"y":583},{"s":"K","g":"2e","x":550665,"y":583},{"s":"K","g":"2f","x":550715,"y":583},{"s":"K","g":"2f","x":551139,"y":583},
{"s":"K","g":"2g","x":551197,"y":584},{"s":"K","g":"2g","x":551359,"y":583},{"s":"K","g":"2g","x":551715,"y":585},{"s":"K","g":"2g","x":551993,"y":585},
{"s":"L","g":"2a","x":542001,"y":587},{"s":"L","g":"2a","x":542764,"y":586},{"s":"L","g":"2a","x":543323,"y":579},{"s":"L","g":"2a","x":543903,"y":563},{"s":"L","g":"2a","x":545226,"y":569},{"s":"L","g":"2a","x":545734,"y":573},{"s":"L","g":"2a","x":546151,"y":583},{"s":"L","g":"2a","x":547789,"y":583},
{"s":"L","g":"2b","x":547850,"y":586},{"s":"L","g":"2b","x":548002,"y":585},{"s":"L","g":"2b","x":548308,"y":586},{"s":"L","g":"2b","x":549233,"y":586},
{"s":"L","g":"2c","x":549315,"y":586},{"s":"L","g":"2c","x":549369,"y":586},{"s":"L","g":"2d","x":549420,"y":585},{"s":"L","g":"2d","x":549488,"y":585},
{"s":"L","g":"2e","x":550573,"y":585},{"s":"L","g":"2e","x":550665,"y":585},{"s":"L","g":"2f","x":550715,"y":584},{"s":"L","g":"2f","x":551139,"y":584},
{"s":"L","g":"2g","x":551197,"y":586},{"s":"L","g":"2g","x":551359,"y":585},{"s":"L","g":"2g","x":551715,"y":586},{"s":"L","g":"2g","x":551993,"y":586}
]
},
"layer":[
{"data":{"name":"ex"},"mark":{"type":"line","interpolate":"step-after","strokeWidth":1},
 "encoding":{"color":{"field":"s","type":"nominal","legend":null,"scale":{"domain":["A","B","C","D","E","F","G","H","I","J","K","L"],"range":["#990099","#222222","#cc0033","#ff6633","#999900","#66cc00","#cc6633","#66bbff","#aa99ee","#996655","#000066","#cc66aa"]}},"detail":{"field":"g"}}},
{"data":{"name":"hr"},"transform":[{"filter":"datum.k=='ref'"}],"mark":{"type":"rule","color":"black","strokeWidth":2},"encoding":{"x2":{"field":"x2"}}},
{"data":{"name":"hr"},"transform":[{"filter":"datum.k=='blk'"}],"mark":{"type":"rule","color":"black","strokeWidth":1.5},"encoding":{"x2":{"field":"x2"}}},
{"data":{"name":"hr"},"transform":[{"filter":"datum.k=='red'"}],"mark":{"type":"rule","color":"#ff0000","strokeWidth":1.4},"encoding":{"x2":{"field":"x2"}}},
{"data":{"name":"hr"},"transform":[{"filter":"datum.k=='green'"}],"mark":{"type":"rule","color":"#00ff00","strokeWidth":1.4},"encoding":{"x2":{"field":"x2"}}},
{"data":{"name":"rc"},"transform":[{"filter":"datum.k=='blue'"}],"mark":{"type":"rect","fill":"white","stroke":"#0000ff","strokeWidth":1.3},"encoding":{"x2":{"field":"x2"},"y2":{"field":"y2"}}},
{"data":{"name":"rc"},"transform":[{"filter":"datum.k=='navy'"}],"mark":{"type":"rect","fill":"#000090"},"encoding":{"x2":{"field":"x2"},"y2":{"field":"y2"}}},
{"data":{"name":"rc"},"transform":[{"filter":"datum.k=='green'"}],"mark":{"type":"rect","fill":"#00ff00"},"encoding":{"x2":{"field":"x2"},"y2":{"field":"y2"}}},
{"data":{"name":"rc"},"transform":[{"filter":"datum.k=='red'"}],"mark":{"type":"rect","fill":"white","stroke":"#ff0000","strokeWidth":1.3},"encoding":{"x2":{"field":"x2"},"y2":{"field":"y2"}}},
{"data":{"name":"rc"},"transform":[{"filter":"datum.k=='term'"}],"mark":{"type":"rect","fill":"#ff0000"},"encoding":{"x2":{"field":"x2"},"y2":{"field":"y2"}}},
{"data":{"name":"rc"},"transform":[{"filter":"datum.k=='pink'"}],"mark":{"type":"rect","fill":"white","stroke":"#f7c6b4","strokeWidth":1.2},"encoding":{"x2":{"field":"x2"},"y2":{"field":"y2"}}},
{"data":{"name":"rc"},"transform":[{"filter":"datum.k=='pinkf'"}],"mark":{"type":"rect","fill":"#fcdcd0","stroke":"#f5c0ae","strokeWidth":0.8},"encoding":{"x2":{"field":"x2"},"y2":{"field":"y2"}}},
{"data":{"name":"rc"},"transform":[{"filter":"datum.k=='orange'"}],"mark":{"type":"rect","fill":"white","stroke":"#ef6444","strokeWidth":1.2},"encoding":{"x2":{"field":"x2"},"y2":{"field":"y2"}}},
{"data":{"name":"arr"},"transform":[{"filter":"datum.b==0"}],"mark":{"type":"area","fill":"white","stroke":"black","strokeWidth":1.3,"interpolate":"linear"},"encoding":{"y2":{"field":"y2"},"detail":{"field":"g"}}},
{"data":{"name":"arr"},"transform":[{"filter":"datum.b==1"}],"mark":{"type":"area","fill":"black","stroke":"black","strokeWidth":1.3,"interpolate":"linear"},"encoding":{"y2":{"field":"y2"},"detail":{"field":"g"}}},
{"data":{"name":"flg"},"mark":{"type":"area","fill":"#ff0000","stroke":"#ff0000","strokeWidth":0.5,"interpolate":"linear"},"encoding":{"y2":{"field":"y2"},"detail":{"field":"f"}}},
{"data":{"name":"vr"},"transform":[{"filter":"datum.k=='blk'"}],"mark":{"type":"rule","color":"black","strokeWidth":1.3},"encoding":{"y2":{"field":"y2"}}},
{"data":{"name":"vr"},"transform":[{"filter":"datum.k=='red'"}],"mark":{"type":"rule","color":"#ff0000","strokeWidth":1.6},"encoding":{"y2":{"field":"y2"}}},
{"data":{"name":"tx"},"transform":[{"filter":"datum.side=='c'"}],"mark":{"type":"text","align":"center"},"encoding":{"text":{"field":"t"}}},
{"data":{"name":"tx"},"transform":[{"filter":"datum.side=='l'"}],"mark":{"type":"text","align":"left"},"encoding":{"text":{"field":"t"}}},
{"data":{"name":"tx"},"transform":[{"filter":"datum.side=='r'"}],"mark":{"type":"text","align":"right"},"encoding":{"text":{"field":"t"}}}
]
}
